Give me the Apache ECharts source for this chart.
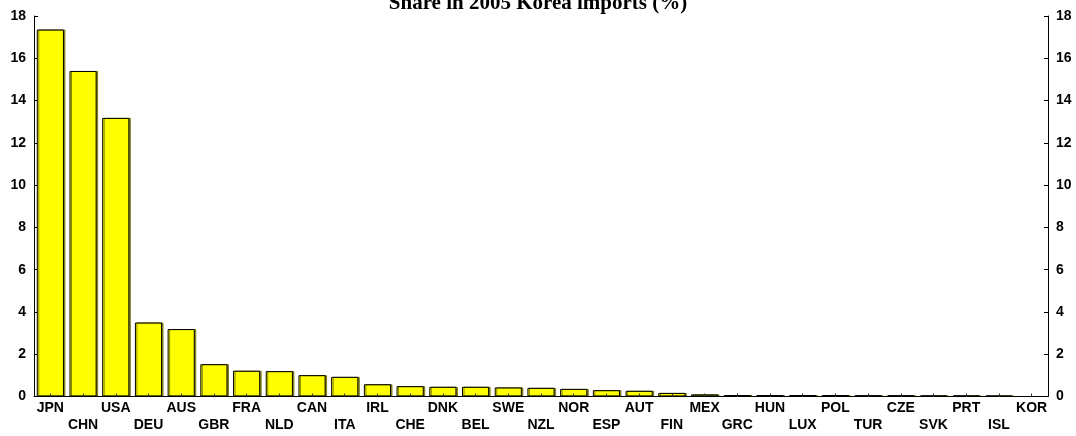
<!DOCTYPE html>
<html>
<head>
<meta charset="utf-8">
<script src="https://cdn.jsdelivr.net/npm/echarts@6/dist/echarts.min.js"></script>
<style>html,body{margin:0;padding:0;background:#fff;}#c{width:1076px;height:436px;}</style>
</head>
<body>
<div id="c"></div>
<script>
const titleText = 'Share in 2005 Korea imports (%)';
const categories = ['JPN','CHN','USA','DEU','AUS','GBR','FRA','NLD','CAN','ITA','IRL','CHE','DNK','BEL','SWE','NZL','NOR','ESP','AUT','FIN','MEX','GRC','HUN','LUX','POL','TUR','CZE','SVK','PRT','ISL','KOR'];
const shares = [17.36,15.40,13.18,3.50,3.19,1.53,1.22,1.20,1.01,0.93,0.58,0.49,0.46,0.46,0.43,0.41,0.36,0.30,0.27,0.17,0.10,0.07,0.07,0.07,0.07,0.06,0.06,0.05,0.05,0.04,0];
const yTicks = {min:0, max:18, interval:2};

const chart = echarts.init(document.getElementById('c'));
const labelStyle = {fontFamily:'Liberation Sans, Arial, sans-serif', fontWeight:'bold', fontSize:14, color:'#000'};
const yAxisCommon = {
  type:'value', min:yTicks.min, max:yTicks.max, interval:yTicks.interval,
  splitLine:{show:false},
  axisLine:{show:true, lineStyle:{color:'#000', width:1}},
  axisTick:{show:true, inside:true, length:4, lineStyle:{color:'#000'}},
  axisLabel:Object.assign({margin:8}, labelStyle)
};
chart.setOption({
  animation:false,
  backgroundColor:'#fff',
  title:{text:titleText, left:'center', top:-12,
    textStyle:{fontFamily:'Liberation Serif, Times New Roman, serif', fontWeight:'bold', fontSize:21, color:'#000'}},
  grid:{left:34, right:28, top:16, bottom:39.5, containLabel:false},
  xAxis:{
    type:'category', data:categories, z:5,
    axisLine:{show:true, lineStyle:{color:'#000', width:1}},
    axisTick:{show:true, inside:true, alignWithLabel:true, length:3, interval:0, lineStyle:{color:'#333'}},
    axisLabel:Object.assign({interval:0, margin:3, lineHeight:17,
      formatter:function(v, i){ return (i % 2) ? '\n' + v : v; }}, labelStyle)
  },
  yAxis:[
    Object.assign({position:'left'}, yAxisCommon),
    Object.assign({position:'right'}, yAxisCommon)
  ],
  series:[{
    type:'bar', data:shares, yAxisIndex:0, barCategoryGap:'17%',
    itemStyle:{color:'#ffff00', borderColor:'#000', borderWidth:1,
      shadowColor:'rgba(110,110,0,0.8)', shadowOffsetX:1.5, shadowOffsetY:0, shadowBlur:0}
  }]
});
</script>
</body>
</html>
